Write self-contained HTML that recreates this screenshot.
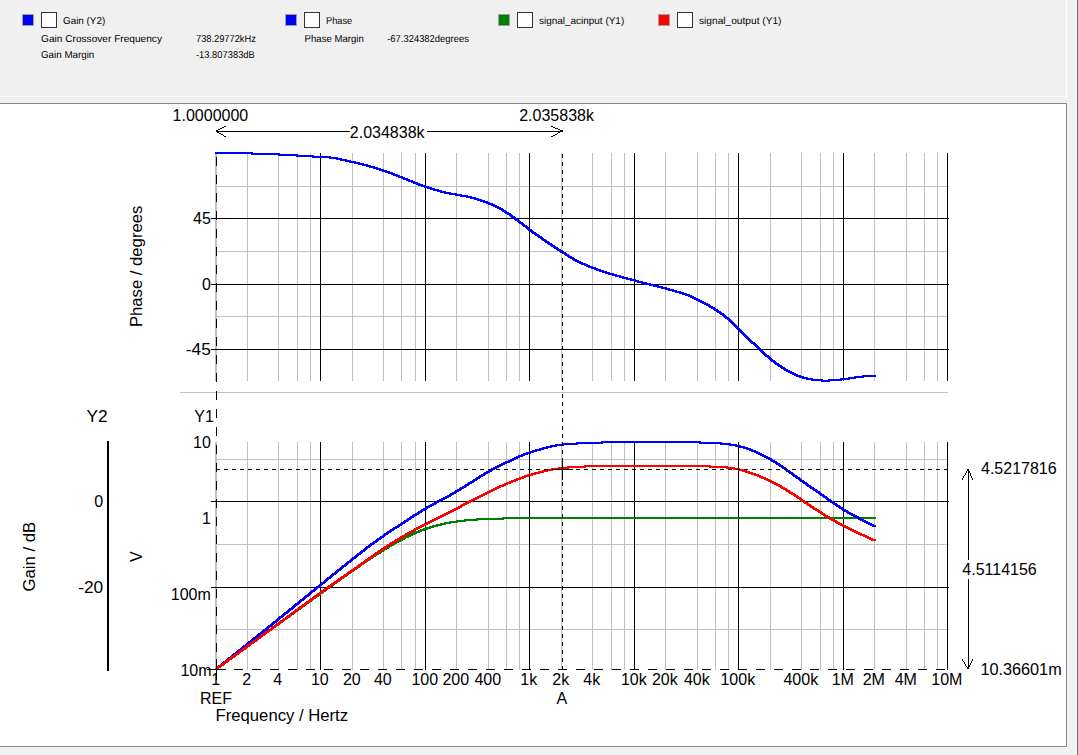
<!DOCTYPE html>
<html><head><meta charset="utf-8"><title>Bode plot</title>
<style>
html,body{margin:0;padding:0;}
body{width:1078px;height:755px;overflow:hidden;background:#f0f0f0;position:relative;
font-family:"Liberation Sans",sans-serif;}
.abs{position:absolute;}
.sq{position:absolute;top:14px;width:10px;height:10px;border:1px solid #a0a0a0;}
.cb{position:absolute;top:12px;width:14px;height:14px;border:1px solid #333;background:#fff;}
.lt{position:absolute;font-size:11px;line-height:13px;white-space:nowrap;color:#000;}
#chart{position:absolute;left:0;top:104px;width:1066px;height:642px;background:#fff;}
svg{position:absolute;left:0;top:0;}
</style></head><body>
<div class="abs" style="left:0;top:96px;width:1067px;height:1px;background:#fff"></div>
<div class="abs" style="left:1066px;top:0;width:1px;height:97px;background:#fff"></div>
<div class="abs" style="left:0;top:102px;width:1068px;height:1px;background:#f5f5f5"></div>
<div class="abs" style="left:1067px;top:102px;width:1px;height:646px;background:#f5f5f5"></div>
<div class="abs" style="left:0;top:747px;width:1068px;height:1px;background:#f5f5f5"></div>
<div class="abs" style="left:0;top:103px;width:1067px;height:644px;background:#828790"></div>
<div id="chart"></div>
<div class="abs" style="left:1076px;top:0;width:1px;height:755px;background:#f5f5f5"></div>
<div class="abs" style="left:1077px;top:0;width:1px;height:755px;background:#707070"></div>
<svg width="1078" height="755" viewBox="0 0 1078 755" shape-rendering="crispEdges">
<g font-family="Liberation Sans, sans-serif" font-size="10" fill="#000" text-rendering="geometricPrecision">
<rect x="22" y="14" width="12" height="12" fill="#a0a0a0"/>
<rect x="23" y="15" width="10" height="10" fill="#0000ff"/>
<rect x="41" y="12" width="16" height="16" fill="#333"/>
<rect x="42" y="13" width="14" height="14" fill="#fff"/>
<text x="63" y="24" textLength="42.2" lengthAdjust="spacingAndGlyphs">Gain (Y2)</text>
<rect x="285" y="14" width="12" height="12" fill="#a0a0a0"/>
<rect x="286" y="15" width="10" height="10" fill="#0000ff"/>
<rect x="304" y="12" width="16" height="16" fill="#333"/>
<rect x="305" y="13" width="14" height="14" fill="#fff"/>
<text x="326" y="24" textLength="26.1" lengthAdjust="spacingAndGlyphs">Phase</text>
<rect x="498" y="14" width="12" height="12" fill="#a0a0a0"/>
<rect x="499" y="15" width="10" height="10" fill="#008000"/>
<rect x="517" y="12" width="16" height="16" fill="#333"/>
<rect x="518" y="13" width="14" height="14" fill="#fff"/>
<text x="539" y="24" textLength="85.2" lengthAdjust="spacingAndGlyphs">signal_acinput (Y1)</text>
<rect x="658" y="14" width="12" height="12" fill="#a0a0a0"/>
<rect x="659" y="15" width="10" height="10" fill="#ff0000"/>
<rect x="677" y="12" width="16" height="16" fill="#333"/>
<rect x="678" y="13" width="14" height="14" fill="#fff"/>
<text x="699" y="24" textLength="82.5" lengthAdjust="spacingAndGlyphs">signal_output (Y1)</text>
<text x="41" y="42" textLength="121" lengthAdjust="spacingAndGlyphs">Gain Crossover Frequency</text>
<text x="196" y="42" textLength="59.8" lengthAdjust="spacingAndGlyphs">738.29772kHz</text>
<text x="41" y="58" textLength="53.3" lengthAdjust="spacingAndGlyphs">Gain Margin</text>
<text x="196" y="58" textLength="58.8" lengthAdjust="spacingAndGlyphs">-13.807383dB</text>
<text x="304.6" y="42" textLength="59.2" lengthAdjust="spacingAndGlyphs">Phase Margin</text>
<text x="387.2" y="42" textLength="81.7" lengthAdjust="spacingAndGlyphs">-67.324382degrees</text>
</g>
<rect x="216" y="186" width="733" height="1" fill="#c0c0c0"/>
<rect x="216" y="251" width="733" height="1" fill="#c0c0c0"/>
<rect x="216" y="316" width="733" height="1" fill="#c0c0c0"/>
<rect x="247" y="153" width="1" height="228" fill="#c0c0c0"/>
<rect x="278" y="153" width="1" height="228" fill="#c0c0c0"/>
<rect x="297" y="153" width="1" height="228" fill="#c0c0c0"/>
<rect x="310" y="153" width="1" height="228" fill="#c0c0c0"/>
<rect x="352" y="153" width="1" height="228" fill="#c0c0c0"/>
<rect x="383" y="153" width="1" height="228" fill="#c0c0c0"/>
<rect x="401" y="153" width="1" height="228" fill="#c0c0c0"/>
<rect x="415" y="153" width="1" height="228" fill="#c0c0c0"/>
<rect x="456" y="153" width="1" height="228" fill="#c0c0c0"/>
<rect x="488" y="153" width="1" height="228" fill="#c0c0c0"/>
<rect x="506" y="153" width="1" height="228" fill="#c0c0c0"/>
<rect x="519" y="153" width="1" height="228" fill="#c0c0c0"/>
<rect x="561" y="153" width="1" height="228" fill="#c0c0c0"/>
<rect x="592" y="153" width="1" height="228" fill="#c0c0c0"/>
<rect x="611" y="153" width="1" height="228" fill="#c0c0c0"/>
<rect x="624" y="153" width="1" height="228" fill="#c0c0c0"/>
<rect x="665" y="153" width="1" height="228" fill="#c0c0c0"/>
<rect x="697" y="153" width="1" height="228" fill="#c0c0c0"/>
<rect x="715" y="153" width="1" height="228" fill="#c0c0c0"/>
<rect x="728" y="153" width="1" height="228" fill="#c0c0c0"/>
<rect x="770" y="153" width="1" height="228" fill="#c0c0c0"/>
<rect x="801" y="153" width="1" height="228" fill="#c0c0c0"/>
<rect x="820" y="153" width="1" height="228" fill="#c0c0c0"/>
<rect x="833" y="153" width="1" height="228" fill="#c0c0c0"/>
<rect x="874" y="153" width="1" height="228" fill="#c0c0c0"/>
<rect x="906" y="153" width="1" height="228" fill="#c0c0c0"/>
<rect x="924" y="153" width="1" height="228" fill="#c0c0c0"/>
<rect x="937" y="153" width="1" height="228" fill="#c0c0c0"/>
<rect x="215" y="153" width="1" height="228" fill="#c0c0c0"/>
<rect x="216" y="153" width="1" height="228" fill="#c0c0c0"/>
<rect x="211" y="218" width="738" height="1" fill="#000"/>
<rect x="211" y="284" width="738" height="1" fill="#000"/>
<rect x="211" y="349" width="738" height="1" fill="#000"/>
<rect x="320" y="153" width="1" height="228" fill="#000"/>
<rect x="425" y="153" width="1" height="228" fill="#000"/>
<rect x="529" y="153" width="1" height="228" fill="#000"/>
<rect x="634" y="153" width="1" height="228" fill="#000"/>
<rect x="738" y="153" width="1" height="228" fill="#000"/>
<rect x="843" y="153" width="1" height="228" fill="#000"/>
<rect x="947" y="153" width="1" height="228" fill="#000"/>
<rect x="180" y="392" width="768" height="1" fill="#c0c0c0"/>
<rect x="216" y="459" width="733" height="1" fill="#c0c0c0"/>
<rect x="216" y="544" width="733" height="1" fill="#c0c0c0"/>
<rect x="216" y="629" width="733" height="1" fill="#c0c0c0"/>
<rect x="247" y="442" width="1" height="228" fill="#c0c0c0"/>
<rect x="278" y="442" width="1" height="228" fill="#c0c0c0"/>
<rect x="297" y="442" width="1" height="228" fill="#c0c0c0"/>
<rect x="310" y="442" width="1" height="228" fill="#c0c0c0"/>
<rect x="352" y="442" width="1" height="228" fill="#c0c0c0"/>
<rect x="383" y="442" width="1" height="228" fill="#c0c0c0"/>
<rect x="401" y="442" width="1" height="228" fill="#c0c0c0"/>
<rect x="415" y="442" width="1" height="228" fill="#c0c0c0"/>
<rect x="456" y="442" width="1" height="228" fill="#c0c0c0"/>
<rect x="488" y="442" width="1" height="228" fill="#c0c0c0"/>
<rect x="506" y="442" width="1" height="228" fill="#c0c0c0"/>
<rect x="519" y="442" width="1" height="228" fill="#c0c0c0"/>
<rect x="561" y="442" width="1" height="228" fill="#c0c0c0"/>
<rect x="592" y="442" width="1" height="228" fill="#c0c0c0"/>
<rect x="611" y="442" width="1" height="228" fill="#c0c0c0"/>
<rect x="624" y="442" width="1" height="228" fill="#c0c0c0"/>
<rect x="665" y="442" width="1" height="228" fill="#c0c0c0"/>
<rect x="697" y="442" width="1" height="228" fill="#c0c0c0"/>
<rect x="715" y="442" width="1" height="228" fill="#c0c0c0"/>
<rect x="728" y="442" width="1" height="228" fill="#c0c0c0"/>
<rect x="770" y="442" width="1" height="228" fill="#c0c0c0"/>
<rect x="801" y="442" width="1" height="228" fill="#c0c0c0"/>
<rect x="820" y="442" width="1" height="228" fill="#c0c0c0"/>
<rect x="833" y="442" width="1" height="228" fill="#c0c0c0"/>
<rect x="874" y="442" width="1" height="228" fill="#c0c0c0"/>
<rect x="906" y="442" width="1" height="228" fill="#c0c0c0"/>
<rect x="924" y="442" width="1" height="228" fill="#c0c0c0"/>
<rect x="937" y="442" width="1" height="228" fill="#c0c0c0"/>
<rect x="215" y="442" width="1" height="228" fill="#c0c0c0"/>
<rect x="216" y="442" width="1" height="228" fill="#c0c0c0"/>
<rect x="211" y="501" width="738" height="1" fill="#000"/>
<rect x="211" y="587" width="738" height="1" fill="#000"/>
<rect x="320" y="442" width="1" height="228" fill="#000"/>
<rect x="425" y="442" width="1" height="228" fill="#000"/>
<rect x="529" y="442" width="1" height="228" fill="#000"/>
<rect x="634" y="442" width="1" height="228" fill="#000"/>
<rect x="738" y="442" width="1" height="228" fill="#000"/>
<rect x="843" y="442" width="1" height="228" fill="#000"/>
<rect x="947" y="442" width="1" height="228" fill="#000"/>
<rect x="107" y="441" width="2" height="230" fill="#000"/>
<path d="M215,152h38v2h-38zM251,153h29v2h-29zM278,154h20v2h-20zM296,155h18v2h-18zM312,156h19v2h-19zM329,157h9v2h-9zM336,158h6v2h-6zM340,159h7v2h-7zM345,160h6v2h-6zM349,161h7v2h-7zM354,162h6v2h-6zM358,163h6v2h-6zM362,164h6v2h-6zM366,165h5v2h-5zM369,166h6v2h-6zM373,167h5v2h-5zM376,168h5v2h-5zM379,169h5v2h-5zM382,170h5v2h-5zM385,171h5v2h-5zM388,172h5v2h-5zM391,173h4v2h-4zM393,174h5v2h-5zM396,175h4v2h-4zM398,176h5v2h-5zM401,177h4v2h-4zM403,178h5v2h-5zM406,179h4v2h-4zM408,180h5v2h-5zM411,181h4v2h-4zM413,182h5v2h-5zM416,183h4v2h-4zM418,184h5v2h-5zM421,185h5v2h-5zM424,186h5v2h-5zM427,187h5v2h-5zM430,188h5v2h-5zM433,189h6v2h-6zM437,190h5v2h-5zM440,191h6v2h-6zM444,192h7v2h-7zM449,193h8v2h-8zM455,194h7v2h-7zM460,195h8v2h-8zM466,196h6v2h-6zM470,197h6v2h-6zM474,198h5v2h-5zM477,199h5v2h-5zM480,200h5v2h-5zM483,201h5v2h-5zM486,202h4v2h-4zM488,203h5v2h-5zM491,204h4v2h-4zM493,205h4v2h-4zM495,206h4v2h-4zM497,207h4v2h-4zM499,208h4v2h-4zM501,209h3v2h-3zM502,210h4v2h-4zM504,211h3v2h-3zM505,212h4v2h-4zM507,213h4v2h-4zM509,214h3v2h-3zM510,215h3v2h-3zM511,216h4v2h-4zM513,217h3v2h-3zM514,218h3v2h-3zM515,219h4v2h-4zM517,220h3v2h-3zM518,221h3v2h-3zM519,222h4v2h-4zM521,223h3v2h-3zM522,224h3v2h-3zM523,225h4v2h-4zM525,226h3v2h-3zM526,227h3v2h-3zM527,228h3v2h-3zM528,229h4v2h-4zM530,230h3v2h-3zM531,231h3v2h-3zM532,232h4v2h-4zM534,233h3v2h-3zM535,234h4v2h-4zM537,235h3v2h-3zM538,236h4v2h-4zM540,237h3v2h-3zM541,238h3v2h-3zM542,239h4v2h-4zM544,240h3v2h-3zM545,241h4v2h-4zM547,242h3v2h-3zM548,243h4v2h-4zM550,244h3v2h-3zM551,245h4v2h-4zM553,246h3v2h-3zM554,247h4v2h-4zM556,248h3v2h-3zM557,249h4v2h-4zM559,250h3v2h-3zM560,251h4v2h-4zM562,252h4v2h-4zM564,253h3v2h-3zM565,254h4v2h-4zM567,255h3v2h-3zM568,256h4v2h-4zM570,257h4v2h-4zM572,258h3v2h-3zM573,259h4v2h-4zM575,260h4v2h-4zM577,261h4v2h-4zM579,262h4v2h-4zM581,263h5v2h-5zM584,264h4v2h-4zM586,265h4v2h-4zM588,266h5v2h-5zM591,267h5v2h-5zM594,268h4v2h-4zM596,269h5v2h-5zM599,270h5v2h-5zM602,271h5v2h-5zM605,272h5v2h-5zM608,273h6v2h-6zM612,274h5v2h-5zM615,275h6v2h-6zM619,276h5v2h-5zM622,277h6v2h-6zM626,278h6v2h-6zM630,279h6v2h-6zM634,280h5v2h-5zM637,281h6v2h-6zM641,282h6v2h-6zM645,283h6v2h-6zM649,284h6v2h-6zM653,285h6v2h-6zM657,286h6v2h-6zM661,287h6v2h-6zM665,288h5v2h-5zM668,289h6v2h-6zM672,290h5v2h-5zM675,291h6v2h-6zM679,292h5v2h-5zM682,293h5v2h-5zM685,294h5v2h-5zM688,295h4v2h-4zM690,296h4v2h-4zM692,297h4v2h-4zM694,298h4v2h-4zM696,299h4v2h-4zM698,300h4v2h-4zM700,301h4v2h-4zM702,302h4v2h-4zM704,303h4v2h-4zM706,304h4v2h-4zM708,305h3v2h-3zM709,306h4v2h-4zM711,307h4v2h-4zM713,308h3v2h-3zM714,309h4v2h-4zM716,310h3v2h-3zM717,311h4v2h-4zM719,312h3v2h-3zM720,313h4v2h-4zM722,314h3v2h-3zM723,315h3v2h-3zM724,316h3v2h-3zM725,317h4v2h-4zM727,318h3v2h-3zM728,319h3v2h-3zM729,320h3v2h-3zM730,321h3v2h-3zM731,322h3v2h-3zM732,323h3v2h-3zM733,324h3v2h-3zM734,325h3v2h-3zM735,326h3v2h-3zM736,327h3v2h-3zM737,328h3v2h-3zM738,329h3v2h-3zM739,330h3v2h-3zM740,331h3v2h-3zM741,332h3v2h-3zM742,333h3v2h-3zM743,334h3v2h-3zM744,335h3v2h-3zM745,336h3v2h-3zM746,337h3v2h-3zM747,338h3v2h-3zM748,339h3v2h-3zM749,340h3v2h-3zM750,341h3v2h-3zM751,342h4v2h-4zM753,343h3v2h-3zM754,344h3v2h-3zM755,345h3v2h-3zM756,346h3v2h-3zM757,347h3v2h-3zM758,348h3v2h-3zM759,349h3v2h-3zM760,350h3v2h-3zM761,351h3v2h-3zM762,352h3v2h-3zM763,353h3v2h-3zM764,354h3v2h-3zM765,355h4v2h-4zM767,356h3v2h-3zM768,357h3v2h-3zM769,358h3v2h-3zM770,359h3v2h-3zM771,360h4v2h-4zM773,361h3v2h-3zM774,362h3v2h-3zM775,363h4v2h-4zM777,364h3v2h-3zM778,365h4v2h-4zM780,366h3v2h-3zM781,367h4v2h-4zM783,368h3v2h-3zM784,369h4v2h-4zM786,370h4v2h-4zM788,371h4v2h-4zM790,372h4v2h-4zM792,373h4v2h-4zM794,374h4v2h-4zM796,375h5v2h-5zM799,376h5v2h-5zM802,377h6v2h-6zM806,378h7v2h-7zM811,379h12v2h-12zM821,380h9v2h-9zM828,379h14v2h-14zM840,378h10v2h-10zM848,377h8v2h-8zM854,376h10v2h-10zM862,375h14v2h-14z" fill="#0000ff"/>
<path d="M215,668h3v2h-3zM216,667h3v2h-3zM217,666h4v2h-4zM219,665h3v2h-3zM220,664h3v2h-3zM221,663h4v2h-4zM223,662h3v2h-3zM224,661h4v2h-4zM226,660h3v2h-3zM227,659h3v2h-3zM228,658h4v2h-4zM230,657h3v2h-3zM231,656h3v2h-3zM232,655h4v2h-4zM234,654h3v2h-3zM235,653h4v2h-4zM237,652h3v2h-3zM238,651h3v2h-3zM239,650h4v2h-4zM241,649h3v2h-3zM242,648h3v2h-3zM243,647h4v2h-4zM245,646h3v2h-3zM246,645h4v2h-4zM248,644h3v2h-3zM249,643h3v2h-3zM250,642h4v2h-4zM252,641h3v2h-3zM253,640h3v2h-3zM254,639h4v2h-4zM256,638h3v2h-3zM257,637h4v2h-4zM259,636h3v2h-3zM260,635h3v2h-3zM261,634h4v2h-4zM263,633h3v2h-3zM264,632h3v2h-3zM265,631h4v2h-4zM267,630h3v2h-3zM268,629h4v2h-4zM270,628h3v2h-3zM271,627h3v2h-3zM272,626h4v2h-4zM274,625h3v2h-3zM275,624h4v2h-4zM277,623h3v2h-3zM278,622h3v2h-3zM279,621h4v2h-4zM281,620h3v2h-3zM282,619h3v2h-3zM283,618h4v2h-4zM285,617h3v2h-3zM286,616h4v2h-4zM288,615h3v2h-3zM289,614h3v2h-3zM290,613h4v2h-4zM292,612h3v2h-3zM293,611h3v2h-3zM294,610h4v2h-4zM296,609h3v2h-3zM297,608h4v2h-4zM299,607h3v2h-3zM300,606h3v2h-3zM301,605h4v2h-4zM303,604h3v2h-3zM304,603h3v2h-3zM305,602h4v2h-4zM307,601h3v2h-3zM308,600h4v2h-4zM310,599h3v2h-3zM311,598h3v2h-3zM312,597h4v2h-4zM314,596h3v2h-3zM315,595h4v2h-4zM317,594h3v2h-3zM318,593h3v2h-3zM319,592h4v2h-4zM321,591h3v2h-3zM322,590h4v2h-4zM324,589h3v2h-3zM325,588h3v2h-3zM326,587h4v2h-4zM328,586h3v2h-3zM329,585h4v2h-4zM331,584h3v2h-3zM332,583h3v2h-3zM333,582h4v2h-4zM335,581h3v2h-3zM336,580h4v2h-4zM338,579h3v2h-3zM339,578h3v2h-3zM340,577h4v2h-4zM342,576h3v2h-3zM343,575h4v2h-4zM345,574h3v2h-3zM346,573h3v2h-3zM347,572h4v2h-4zM349,571h3v2h-3zM350,570h4v2h-4zM352,569h3v2h-3zM353,568h4v2h-4zM355,567h3v2h-3zM356,566h4v2h-4zM358,565h3v2h-3zM359,564h3v2h-3zM360,563h4v2h-4zM362,562h3v2h-3zM363,561h4v2h-4zM365,560h3v2h-3zM366,559h4v2h-4zM368,558h3v2h-3zM369,557h4v2h-4zM371,556h3v2h-3zM372,555h4v2h-4zM374,554h3v2h-3zM375,553h4v2h-4zM377,552h4v2h-4zM379,551h3v2h-3zM380,550h4v2h-4zM382,549h3v2h-3zM383,548h4v2h-4zM385,547h4v2h-4zM387,546h3v2h-3zM388,545h4v2h-4zM390,544h4v2h-4zM392,543h3v2h-3zM393,542h4v2h-4zM395,541h4v2h-4zM397,540h4v2h-4zM399,539h4v2h-4zM401,538h4v2h-4zM403,537h3v2h-3zM404,536h5v2h-5zM407,535h4v2h-4zM409,534h4v2h-4zM411,533h4v2h-4zM413,532h4v2h-4zM415,531h5v2h-5zM418,530h4v2h-4zM420,529h5v2h-5zM423,528h5v2h-5zM426,527h5v2h-5zM429,526h5v2h-5zM432,525h6v2h-6zM436,524h6v2h-6zM440,523h6v2h-6zM444,522h7v2h-7zM449,521h9v2h-9zM456,520h10v2h-10zM464,519h14v2h-14zM476,518h28v2h-28zM502,517h374v2h-374z" fill="#008000"/>
<path d="M215,668h3v2h-3zM216,667h3v2h-3zM217,666h3v2h-3zM218,665h4v2h-4zM220,664h3v2h-3zM221,663h3v2h-3zM222,662h3v2h-3zM223,661h4v2h-4zM225,660h3v2h-3zM226,659h3v2h-3zM227,658h3v2h-3zM228,657h4v2h-4zM230,656h3v2h-3zM231,655h3v2h-3zM232,654h3v2h-3zM233,653h4v2h-4zM235,652h3v2h-3zM236,651h3v2h-3zM237,650h3v2h-3zM238,649h4v2h-4zM240,648h3v2h-3zM241,647h3v2h-3zM242,646h3v2h-3zM243,645h4v2h-4zM245,644h3v2h-3zM246,643h3v2h-3zM247,642h3v2h-3zM248,641h4v2h-4zM250,640h3v2h-3zM251,639h3v2h-3zM252,638h3v2h-3zM253,637h4v2h-4zM255,636h3v2h-3zM256,635h3v2h-3zM257,634h3v2h-3zM258,633h4v2h-4zM260,632h3v2h-3zM261,631h3v2h-3zM262,630h3v2h-3zM263,629h4v2h-4zM265,628h3v2h-3zM266,627h3v2h-3zM267,626h3v2h-3zM268,625h4v2h-4zM270,624h3v2h-3zM271,623h3v2h-3zM272,622h3v2h-3zM273,621h4v2h-4zM275,620h3v2h-3zM276,619h3v2h-3zM277,618h3v2h-3zM278,617h3v2h-3zM279,616h4v2h-4zM281,615h3v2h-3zM282,614h3v2h-3zM283,613h3v2h-3zM284,612h4v2h-4zM286,611h3v2h-3zM287,610h3v2h-3zM288,609h3v2h-3zM289,608h4v2h-4zM291,607h3v2h-3zM292,606h3v2h-3zM293,605h3v2h-3zM294,604h3v2h-3zM295,603h4v2h-4zM297,602h3v2h-3zM298,601h3v2h-3zM299,600h3v2h-3zM300,599h4v2h-4zM302,598h3v2h-3zM303,597h3v2h-3zM304,596h3v2h-3zM305,595h4v2h-4zM307,594h3v2h-3zM308,593h3v2h-3zM309,592h3v2h-3zM310,591h3v2h-3zM311,590h4v2h-4zM313,589h3v2h-3zM314,588h3v2h-3zM315,587h3v2h-3zM316,586h4v2h-4zM318,585h3v2h-3zM319,584h3v2h-3zM320,583h3v2h-3zM321,582h4v2h-4zM323,581h3v2h-3zM324,580h3v2h-3zM325,579h3v2h-3zM326,578h3v2h-3zM327,577h4v2h-4zM329,576h3v2h-3zM330,575h3v2h-3zM331,574h3v2h-3zM332,573h4v2h-4zM334,572h3v2h-3zM335,571h3v2h-3zM336,570h3v2h-3zM337,569h4v2h-4zM339,568h3v2h-3zM340,567h3v2h-3zM341,566h3v2h-3zM342,565h4v2h-4zM344,564h3v2h-3zM345,563h3v2h-3zM346,562h3v2h-3zM347,561h4v2h-4zM349,560h3v2h-3zM350,559h3v2h-3zM351,558h3v2h-3zM352,557h4v2h-4zM354,556h3v2h-3zM355,555h3v2h-3zM356,554h3v2h-3zM357,553h4v2h-4zM359,552h3v2h-3zM360,551h3v2h-3zM361,550h4v2h-4zM363,549h3v2h-3zM364,548h3v2h-3zM365,547h3v2h-3zM366,546h4v2h-4zM368,545h3v2h-3zM369,544h3v2h-3zM370,543h4v2h-4zM372,542h3v2h-3zM373,541h4v2h-4zM375,540h3v2h-3zM376,539h3v2h-3zM377,538h4v2h-4zM379,537h3v2h-3zM380,536h4v2h-4zM382,535h3v2h-3zM383,534h3v2h-3zM384,533h4v2h-4zM386,532h3v2h-3zM387,531h4v2h-4zM389,530h3v2h-3zM390,529h4v2h-4zM392,528h3v2h-3zM393,527h4v2h-4zM395,526h4v2h-4zM397,525h3v2h-3zM398,524h4v2h-4zM400,523h3v2h-3zM401,522h4v2h-4zM403,521h3v2h-3zM404,520h4v2h-4zM406,519h3v2h-3zM407,518h4v2h-4zM409,517h3v2h-3zM410,516h4v2h-4zM412,515h3v2h-3zM413,514h4v2h-4zM415,513h4v2h-4zM417,512h3v2h-3zM418,511h4v2h-4zM420,510h3v2h-3zM421,509h4v2h-4zM423,508h4v2h-4zM425,507h3v2h-3zM426,506h4v2h-4zM428,505h4v2h-4zM430,504h4v2h-4zM432,503h4v2h-4zM434,502h3v2h-3zM435,501h4v2h-4zM437,500h4v2h-4zM439,499h4v2h-4zM441,498h4v2h-4zM443,497h4v2h-4zM445,496h4v2h-4zM447,495h4v2h-4zM449,494h3v2h-3zM450,493h4v2h-4zM452,492h4v2h-4zM454,491h3v2h-3zM455,490h4v2h-4zM457,489h4v2h-4zM459,488h3v2h-3zM460,487h4v2h-4zM462,486h4v2h-4zM464,485h3v2h-3zM465,484h4v2h-4zM467,483h3v2h-3zM468,482h4v2h-4zM470,481h4v2h-4zM472,480h3v2h-3zM473,479h4v2h-4zM475,478h3v2h-3zM476,477h4v2h-4zM478,476h3v2h-3zM479,475h4v2h-4zM481,474h4v2h-4zM483,473h3v2h-3zM484,472h4v2h-4zM486,471h4v2h-4zM488,470h4v2h-4zM490,469h3v2h-3zM491,468h4v2h-4zM493,467h4v2h-4zM495,466h4v2h-4zM497,465h4v2h-4zM499,464h4v2h-4zM501,463h4v2h-4zM503,462h4v2h-4zM505,461h5v2h-5zM508,460h4v2h-4zM510,459h4v2h-4zM512,458h4v2h-4zM514,457h4v2h-4zM516,456h4v2h-4zM518,455h5v2h-5zM521,454h4v2h-4zM523,453h5v2h-5zM526,452h5v2h-5zM529,451h5v2h-5zM532,450h5v2h-5zM535,449h6v2h-6zM539,448h5v2h-5zM542,447h6v2h-6zM546,446h6v2h-6zM550,445h7v2h-7zM555,444h9v2h-9zM562,443h16v2h-16zM576,442h27v2h-27zM601,441h100v2h-100zM699,442h23v2h-23zM720,443h11v2h-11zM729,444h8v2h-8zM735,445h6v2h-6zM739,446h6v2h-6zM743,447h5v2h-5zM746,448h5v2h-5zM749,449h4v2h-4zM751,450h5v2h-5zM754,451h4v2h-4zM756,452h4v2h-4zM758,453h4v2h-4zM760,454h4v2h-4zM762,455h4v2h-4zM764,456h4v2h-4zM766,457h4v2h-4zM768,458h4v2h-4zM770,459h3v2h-3zM771,460h4v2h-4zM773,461h4v2h-4zM775,462h3v2h-3zM776,463h4v2h-4zM778,464h3v2h-3zM779,465h4v2h-4zM781,466h3v2h-3zM782,467h4v2h-4zM784,468h3v2h-3zM785,469h3v2h-3zM786,470h4v2h-4zM788,471h3v2h-3zM789,472h4v2h-4zM791,473h3v2h-3zM792,474h3v2h-3zM793,475h4v2h-4zM795,476h3v2h-3zM796,477h4v2h-4zM798,478h3v2h-3zM799,479h3v2h-3zM800,480h4v2h-4zM802,481h3v2h-3zM803,482h4v2h-4zM805,483h3v2h-3zM806,484h3v2h-3zM807,485h4v2h-4zM809,486h3v2h-3zM810,487h4v2h-4zM812,488h3v2h-3zM813,489h4v2h-4zM815,490h3v2h-3zM816,491h4v2h-4zM818,492h3v2h-3zM819,493h3v2h-3zM820,494h4v2h-4zM822,495h3v2h-3zM823,496h4v2h-4zM825,497h3v2h-3zM826,498h3v2h-3zM827,499h4v2h-4zM829,500h3v2h-3zM830,501h4v2h-4zM832,502h3v2h-3zM833,503h4v2h-4zM835,504h3v2h-3zM836,505h4v2h-4zM838,506h3v2h-3zM839,507h4v2h-4zM841,508h3v2h-3zM842,509h4v2h-4zM844,510h4v2h-4zM846,511h3v2h-3zM847,512h4v2h-4zM849,513h4v2h-4zM851,514h4v2h-4zM853,515h4v2h-4zM855,516h4v2h-4zM857,517h3v2h-3zM858,518h4v2h-4zM860,519h4v2h-4zM862,520h4v2h-4zM864,521h4v2h-4zM866,522h4v2h-4zM868,523h4v2h-4zM870,524h4v2h-4zM872,525h4v2h-4z" fill="#0000ff"/>
<path d="M215,668h3v2h-3zM216,667h3v2h-3zM217,666h4v2h-4zM219,665h3v2h-3zM220,664h4v2h-4zM222,663h3v2h-3zM223,662h3v2h-3zM224,661h4v2h-4zM226,660h3v2h-3zM227,659h3v2h-3zM228,658h4v2h-4zM230,657h3v2h-3zM231,656h4v2h-4zM233,655h3v2h-3zM234,654h3v2h-3zM235,653h4v2h-4zM237,652h3v2h-3zM238,651h3v2h-3zM239,650h4v2h-4zM241,649h3v2h-3zM242,648h4v2h-4zM244,647h3v2h-3zM245,646h3v2h-3zM246,645h4v2h-4zM248,644h3v2h-3zM249,643h3v2h-3zM250,642h4v2h-4zM252,641h3v2h-3zM253,640h4v2h-4zM255,639h3v2h-3zM256,638h3v2h-3zM257,637h4v2h-4zM259,636h3v2h-3zM260,635h3v2h-3zM261,634h4v2h-4zM263,633h3v2h-3zM264,632h3v2h-3zM265,631h4v2h-4zM267,630h3v2h-3zM268,629h4v2h-4zM270,628h3v2h-3zM271,627h3v2h-3zM272,626h4v2h-4zM274,625h3v2h-3zM275,624h3v2h-3zM276,623h4v2h-4zM278,622h3v2h-3zM279,621h3v2h-3zM280,620h4v2h-4zM282,619h3v2h-3zM283,618h4v2h-4zM285,617h3v2h-3zM286,616h3v2h-3zM287,615h4v2h-4zM289,614h3v2h-3zM290,613h3v2h-3zM291,612h4v2h-4zM293,611h3v2h-3zM294,610h3v2h-3zM295,609h4v2h-4zM297,608h3v2h-3zM298,607h3v2h-3zM299,606h4v2h-4zM301,605h3v2h-3zM302,604h4v2h-4zM304,603h3v2h-3zM305,602h3v2h-3zM306,601h4v2h-4zM308,600h3v2h-3zM309,599h3v2h-3zM310,598h4v2h-4zM312,597h3v2h-3zM313,596h3v2h-3zM314,595h4v2h-4zM316,594h3v2h-3zM317,593h4v2h-4zM319,592h3v2h-3zM320,591h3v2h-3zM321,590h4v2h-4zM323,589h3v2h-3zM324,588h4v2h-4zM326,587h3v2h-3zM327,586h3v2h-3zM328,585h4v2h-4zM330,584h3v2h-3zM331,583h4v2h-4zM333,582h3v2h-3zM334,581h4v2h-4zM336,580h3v2h-3zM337,579h3v2h-3zM338,578h4v2h-4zM340,577h3v2h-3zM341,576h4v2h-4zM343,575h3v2h-3zM344,574h4v2h-4zM346,573h3v2h-3zM347,572h3v2h-3zM348,571h4v2h-4zM350,570h3v2h-3zM351,569h4v2h-4zM353,568h3v2h-3zM354,567h4v2h-4zM356,566h3v2h-3zM357,565h3v2h-3zM358,564h4v2h-4zM360,563h3v2h-3zM361,562h4v2h-4zM363,561h3v2h-3zM364,560h3v2h-3zM365,559h4v2h-4zM367,558h3v2h-3zM368,557h4v2h-4zM370,556h3v2h-3zM371,555h4v2h-4zM373,554h3v2h-3zM374,553h3v2h-3zM375,552h4v2h-4zM377,551h3v2h-3zM378,550h4v2h-4zM380,549h3v2h-3zM381,548h4v2h-4zM383,547h3v2h-3zM384,546h4v2h-4zM386,545h3v2h-3zM387,544h4v2h-4zM389,543h3v2h-3zM390,542h4v2h-4zM392,541h4v2h-4zM394,540h3v2h-3zM395,539h4v2h-4zM397,538h4v2h-4zM399,537h3v2h-3zM400,536h4v2h-4zM402,535h4v2h-4zM404,534h3v2h-3zM405,533h4v2h-4zM407,532h4v2h-4zM409,531h4v2h-4zM411,530h4v2h-4zM413,529h3v2h-3zM414,528h4v2h-4zM416,527h4v2h-4zM418,526h4v2h-4zM420,525h4v2h-4zM422,524h4v2h-4zM424,523h4v2h-4zM426,522h4v2h-4zM428,521h4v2h-4zM430,520h4v2h-4zM432,519h4v2h-4zM434,518h4v2h-4zM436,517h4v2h-4zM438,516h4v2h-4zM440,515h4v2h-4zM442,514h4v2h-4zM444,513h4v2h-4zM446,512h4v2h-4zM448,511h4v2h-4zM450,510h4v2h-4zM452,509h4v2h-4zM454,508h4v2h-4zM456,507h4v2h-4zM458,506h4v2h-4zM460,505h3v2h-3zM461,504h4v2h-4zM463,503h4v2h-4zM465,502h4v2h-4zM467,501h4v2h-4zM469,500h4v2h-4zM471,499h4v2h-4zM473,498h4v2h-4zM475,497h4v2h-4zM477,496h4v2h-4zM479,495h4v2h-4zM481,494h4v2h-4zM483,493h4v2h-4zM485,492h4v2h-4zM487,491h4v2h-4zM489,490h4v2h-4zM491,489h4v2h-4zM493,488h4v2h-4zM495,487h4v2h-4zM497,486h4v2h-4zM499,485h5v2h-5zM502,484h4v2h-4zM504,483h4v2h-4zM506,482h5v2h-5zM509,481h4v2h-4zM511,480h5v2h-5zM514,479h4v2h-4zM516,478h5v2h-5zM519,477h5v2h-5zM522,476h4v2h-4zM524,475h5v2h-5zM527,474h6v2h-6zM531,473h5v2h-5zM534,472h6v2h-6zM538,471h6v2h-6zM542,470h6v2h-6zM546,469h7v2h-7zM551,468h9v2h-9zM558,467h11v2h-11zM567,466h19v2h-19zM584,465h127v2h-127zM709,466h19v2h-19zM726,467h9v2h-9zM733,468h7v2h-7zM738,469h6v2h-6zM742,470h5v2h-5zM745,471h5v2h-5zM748,472h5v2h-5zM751,473h5v2h-5zM754,474h5v2h-5zM757,475h4v2h-4zM759,476h4v2h-4zM761,477h5v2h-5zM764,478h4v2h-4zM766,479h4v2h-4zM768,480h4v2h-4zM770,481h4v2h-4zM772,482h4v2h-4zM774,483h4v2h-4zM776,484h4v2h-4zM778,485h4v2h-4zM780,486h3v2h-3zM781,487h4v2h-4zM783,488h4v2h-4zM785,489h3v2h-3zM786,490h4v2h-4zM788,491h3v2h-3zM789,492h4v2h-4zM791,493h4v2h-4zM793,494h3v2h-3zM794,495h4v2h-4zM796,496h3v2h-3zM797,497h4v2h-4zM799,498h3v2h-3zM800,499h3v2h-3zM801,500h4v2h-4zM803,501h3v2h-3zM804,502h4v2h-4zM806,503h3v2h-3zM807,504h4v2h-4zM809,505h3v2h-3zM810,506h4v2h-4zM812,507h3v2h-3zM813,508h4v2h-4zM815,509h4v2h-4zM817,510h3v2h-3zM818,511h4v2h-4zM820,512h3v2h-3zM821,513h4v2h-4zM823,514h3v2h-3zM824,515h4v2h-4zM826,516h4v2h-4zM828,517h3v2h-3zM829,518h4v2h-4zM831,519h4v2h-4zM833,520h4v2h-4zM835,521h3v2h-3zM836,522h4v2h-4zM838,523h4v2h-4zM840,524h4v2h-4zM842,525h4v2h-4zM844,526h4v2h-4zM846,527h4v2h-4zM848,528h4v2h-4zM850,529h4v2h-4zM852,530h4v2h-4zM854,531h4v2h-4zM856,532h4v2h-4zM858,533h4v2h-4zM860,534h5v2h-5zM863,535h4v2h-4zM865,536h4v2h-4zM867,537h4v2h-4zM869,538h4v2h-4zM871,539h5v2h-5z" fill="#ff0000"/>
<rect x="216" y="157" width="1" height="9" fill="#000"/>
<rect x="216" y="175" width="1" height="9" fill="#000"/>
<rect x="216" y="193" width="1" height="9" fill="#000"/>
<rect x="216" y="211" width="1" height="9" fill="#000"/>
<rect x="216" y="229" width="1" height="9" fill="#000"/>
<rect x="216" y="247" width="1" height="9" fill="#000"/>
<rect x="216" y="265" width="1" height="9" fill="#000"/>
<rect x="216" y="283" width="1" height="9" fill="#000"/>
<rect x="216" y="301" width="1" height="9" fill="#000"/>
<rect x="216" y="319" width="1" height="9" fill="#000"/>
<rect x="216" y="337" width="1" height="9" fill="#000"/>
<rect x="216" y="355" width="1" height="9" fill="#000"/>
<rect x="216" y="373" width="1" height="9" fill="#000"/>
<rect x="216" y="391" width="1" height="9" fill="#000"/>
<rect x="216" y="409" width="1" height="9" fill="#000"/>
<rect x="216" y="427" width="1" height="9" fill="#000"/>
<rect x="216" y="445" width="1" height="9" fill="#000"/>
<rect x="216" y="463" width="1" height="9" fill="#000"/>
<rect x="216" y="481" width="1" height="9" fill="#000"/>
<rect x="216" y="499" width="1" height="9" fill="#000"/>
<rect x="216" y="517" width="1" height="9" fill="#000"/>
<rect x="216" y="535" width="1" height="9" fill="#000"/>
<rect x="216" y="553" width="1" height="9" fill="#000"/>
<rect x="216" y="571" width="1" height="9" fill="#000"/>
<rect x="216" y="589" width="1" height="9" fill="#000"/>
<rect x="216" y="607" width="1" height="9" fill="#000"/>
<rect x="216" y="625" width="1" height="9" fill="#000"/>
<rect x="216" y="643" width="1" height="9" fill="#000"/>
<rect x="216" y="669" width="9" height="1" fill="#000"/>
<rect x="234" y="669" width="9" height="1" fill="#000"/>
<rect x="252" y="669" width="9" height="1" fill="#000"/>
<rect x="270" y="669" width="9" height="1" fill="#000"/>
<rect x="288" y="669" width="9" height="1" fill="#000"/>
<rect x="306" y="669" width="9" height="1" fill="#000"/>
<rect x="324" y="669" width="9" height="1" fill="#000"/>
<rect x="342" y="669" width="9" height="1" fill="#000"/>
<rect x="360" y="669" width="9" height="1" fill="#000"/>
<rect x="378" y="669" width="9" height="1" fill="#000"/>
<rect x="396" y="669" width="9" height="1" fill="#000"/>
<rect x="414" y="669" width="9" height="1" fill="#000"/>
<rect x="432" y="669" width="9" height="1" fill="#000"/>
<rect x="450" y="669" width="9" height="1" fill="#000"/>
<rect x="468" y="669" width="9" height="1" fill="#000"/>
<rect x="486" y="669" width="9" height="1" fill="#000"/>
<rect x="504" y="669" width="9" height="1" fill="#000"/>
<rect x="522" y="669" width="9" height="1" fill="#000"/>
<rect x="540" y="669" width="9" height="1" fill="#000"/>
<rect x="558" y="669" width="9" height="1" fill="#000"/>
<rect x="576" y="669" width="9" height="1" fill="#000"/>
<rect x="594" y="669" width="9" height="1" fill="#000"/>
<rect x="612" y="669" width="9" height="1" fill="#000"/>
<rect x="630" y="669" width="9" height="1" fill="#000"/>
<rect x="648" y="669" width="9" height="1" fill="#000"/>
<rect x="666" y="669" width="9" height="1" fill="#000"/>
<rect x="684" y="669" width="9" height="1" fill="#000"/>
<rect x="702" y="669" width="9" height="1" fill="#000"/>
<rect x="720" y="669" width="9" height="1" fill="#000"/>
<rect x="738" y="669" width="9" height="1" fill="#000"/>
<rect x="756" y="669" width="9" height="1" fill="#000"/>
<rect x="774" y="669" width="9" height="1" fill="#000"/>
<rect x="792" y="669" width="9" height="1" fill="#000"/>
<rect x="810" y="669" width="9" height="1" fill="#000"/>
<rect x="828" y="669" width="9" height="1" fill="#000"/>
<rect x="846" y="669" width="9" height="1" fill="#000"/>
<rect x="864" y="669" width="9" height="1" fill="#000"/>
<rect x="882" y="669" width="9" height="1" fill="#000"/>
<rect x="900" y="669" width="9" height="1" fill="#000"/>
<rect x="918" y="669" width="9" height="1" fill="#000"/>
<rect x="936" y="669" width="9" height="1" fill="#000"/>
<rect x="207" y="669" width="19" height="1" fill="#000"/>
<rect x="216" y="659" width="1" height="21" fill="#000"/>
<rect x="562" y="154" width="1" height="4" fill="#000"/>
<rect x="562" y="162" width="1" height="4" fill="#000"/>
<rect x="562" y="170" width="1" height="4" fill="#000"/>
<rect x="562" y="178" width="1" height="4" fill="#000"/>
<rect x="562" y="186" width="1" height="4" fill="#000"/>
<rect x="562" y="194" width="1" height="4" fill="#000"/>
<rect x="562" y="202" width="1" height="4" fill="#000"/>
<rect x="562" y="210" width="1" height="4" fill="#000"/>
<rect x="562" y="218" width="1" height="4" fill="#000"/>
<rect x="562" y="226" width="1" height="4" fill="#000"/>
<rect x="562" y="234" width="1" height="4" fill="#000"/>
<rect x="562" y="242" width="1" height="4" fill="#000"/>
<rect x="562" y="250" width="1" height="4" fill="#000"/>
<rect x="562" y="258" width="1" height="4" fill="#000"/>
<rect x="562" y="266" width="1" height="4" fill="#000"/>
<rect x="562" y="274" width="1" height="4" fill="#000"/>
<rect x="562" y="282" width="1" height="4" fill="#000"/>
<rect x="562" y="290" width="1" height="4" fill="#000"/>
<rect x="562" y="298" width="1" height="4" fill="#000"/>
<rect x="562" y="306" width="1" height="4" fill="#000"/>
<rect x="562" y="314" width="1" height="4" fill="#000"/>
<rect x="562" y="322" width="1" height="4" fill="#000"/>
<rect x="562" y="330" width="1" height="4" fill="#000"/>
<rect x="562" y="338" width="1" height="4" fill="#000"/>
<rect x="562" y="346" width="1" height="4" fill="#000"/>
<rect x="562" y="354" width="1" height="4" fill="#000"/>
<rect x="562" y="362" width="1" height="4" fill="#000"/>
<rect x="562" y="370" width="1" height="4" fill="#000"/>
<rect x="562" y="378" width="1" height="4" fill="#000"/>
<rect x="562" y="386" width="1" height="4" fill="#000"/>
<rect x="562" y="394" width="1" height="4" fill="#000"/>
<rect x="562" y="402" width="1" height="4" fill="#000"/>
<rect x="562" y="410" width="1" height="4" fill="#000"/>
<rect x="562" y="418" width="1" height="4" fill="#000"/>
<rect x="562" y="426" width="1" height="4" fill="#000"/>
<rect x="562" y="434" width="1" height="4" fill="#000"/>
<rect x="562" y="442" width="1" height="4" fill="#000"/>
<rect x="562" y="450" width="1" height="4" fill="#000"/>
<rect x="562" y="458" width="1" height="4" fill="#000"/>
<rect x="562" y="466" width="1" height="4" fill="#000"/>
<rect x="562" y="474" width="1" height="4" fill="#000"/>
<rect x="562" y="482" width="1" height="4" fill="#000"/>
<rect x="562" y="490" width="1" height="4" fill="#000"/>
<rect x="562" y="498" width="1" height="4" fill="#000"/>
<rect x="562" y="506" width="1" height="4" fill="#000"/>
<rect x="562" y="514" width="1" height="4" fill="#000"/>
<rect x="562" y="522" width="1" height="4" fill="#000"/>
<rect x="562" y="530" width="1" height="4" fill="#000"/>
<rect x="562" y="538" width="1" height="4" fill="#000"/>
<rect x="562" y="546" width="1" height="4" fill="#000"/>
<rect x="562" y="554" width="1" height="4" fill="#000"/>
<rect x="562" y="562" width="1" height="4" fill="#000"/>
<rect x="562" y="570" width="1" height="4" fill="#000"/>
<rect x="562" y="578" width="1" height="4" fill="#000"/>
<rect x="562" y="586" width="1" height="4" fill="#000"/>
<rect x="562" y="594" width="1" height="4" fill="#000"/>
<rect x="562" y="602" width="1" height="4" fill="#000"/>
<rect x="562" y="610" width="1" height="4" fill="#000"/>
<rect x="562" y="618" width="1" height="4" fill="#000"/>
<rect x="562" y="626" width="1" height="4" fill="#000"/>
<rect x="562" y="634" width="1" height="4" fill="#000"/>
<rect x="562" y="642" width="1" height="4" fill="#000"/>
<rect x="562" y="650" width="1" height="4" fill="#000"/>
<rect x="562" y="658" width="1" height="4" fill="#000"/>
<rect x="562" y="666" width="1" height="4" fill="#000"/>
<rect x="216" y="469" width="4" height="1" fill="#000"/>
<rect x="224" y="469" width="4" height="1" fill="#000"/>
<rect x="232" y="469" width="4" height="1" fill="#000"/>
<rect x="240" y="469" width="4" height="1" fill="#000"/>
<rect x="248" y="469" width="4" height="1" fill="#000"/>
<rect x="256" y="469" width="4" height="1" fill="#000"/>
<rect x="264" y="469" width="4" height="1" fill="#000"/>
<rect x="272" y="469" width="4" height="1" fill="#000"/>
<rect x="280" y="469" width="4" height="1" fill="#000"/>
<rect x="288" y="469" width="4" height="1" fill="#000"/>
<rect x="296" y="469" width="4" height="1" fill="#000"/>
<rect x="304" y="469" width="4" height="1" fill="#000"/>
<rect x="312" y="469" width="4" height="1" fill="#000"/>
<rect x="320" y="469" width="4" height="1" fill="#000"/>
<rect x="328" y="469" width="4" height="1" fill="#000"/>
<rect x="336" y="469" width="4" height="1" fill="#000"/>
<rect x="344" y="469" width="4" height="1" fill="#000"/>
<rect x="352" y="469" width="4" height="1" fill="#000"/>
<rect x="360" y="469" width="4" height="1" fill="#000"/>
<rect x="368" y="469" width="4" height="1" fill="#000"/>
<rect x="376" y="469" width="4" height="1" fill="#000"/>
<rect x="384" y="469" width="4" height="1" fill="#000"/>
<rect x="392" y="469" width="4" height="1" fill="#000"/>
<rect x="400" y="469" width="4" height="1" fill="#000"/>
<rect x="408" y="469" width="4" height="1" fill="#000"/>
<rect x="416" y="469" width="4" height="1" fill="#000"/>
<rect x="424" y="469" width="4" height="1" fill="#000"/>
<rect x="432" y="469" width="4" height="1" fill="#000"/>
<rect x="440" y="469" width="4" height="1" fill="#000"/>
<rect x="448" y="469" width="4" height="1" fill="#000"/>
<rect x="456" y="469" width="4" height="1" fill="#000"/>
<rect x="464" y="469" width="4" height="1" fill="#000"/>
<rect x="472" y="469" width="4" height="1" fill="#000"/>
<rect x="480" y="469" width="4" height="1" fill="#000"/>
<rect x="488" y="469" width="4" height="1" fill="#000"/>
<rect x="496" y="469" width="4" height="1" fill="#000"/>
<rect x="504" y="469" width="4" height="1" fill="#000"/>
<rect x="512" y="469" width="4" height="1" fill="#000"/>
<rect x="520" y="469" width="4" height="1" fill="#000"/>
<rect x="528" y="469" width="4" height="1" fill="#000"/>
<rect x="536" y="469" width="4" height="1" fill="#000"/>
<rect x="544" y="469" width="4" height="1" fill="#000"/>
<rect x="552" y="469" width="4" height="1" fill="#000"/>
<rect x="560" y="469" width="4" height="1" fill="#000"/>
<rect x="568" y="469" width="4" height="1" fill="#000"/>
<rect x="576" y="469" width="4" height="1" fill="#000"/>
<rect x="584" y="469" width="4" height="1" fill="#000"/>
<rect x="592" y="469" width="4" height="1" fill="#000"/>
<rect x="600" y="469" width="4" height="1" fill="#000"/>
<rect x="608" y="469" width="4" height="1" fill="#000"/>
<rect x="616" y="469" width="4" height="1" fill="#000"/>
<rect x="624" y="469" width="4" height="1" fill="#000"/>
<rect x="632" y="469" width="4" height="1" fill="#000"/>
<rect x="640" y="469" width="4" height="1" fill="#000"/>
<rect x="648" y="469" width="4" height="1" fill="#000"/>
<rect x="656" y="469" width="4" height="1" fill="#000"/>
<rect x="664" y="469" width="4" height="1" fill="#000"/>
<rect x="672" y="469" width="4" height="1" fill="#000"/>
<rect x="680" y="469" width="4" height="1" fill="#000"/>
<rect x="688" y="469" width="4" height="1" fill="#000"/>
<rect x="696" y="469" width="4" height="1" fill="#000"/>
<rect x="704" y="469" width="4" height="1" fill="#000"/>
<rect x="712" y="469" width="4" height="1" fill="#000"/>
<rect x="720" y="469" width="4" height="1" fill="#000"/>
<rect x="728" y="469" width="4" height="1" fill="#000"/>
<rect x="736" y="469" width="4" height="1" fill="#000"/>
<rect x="744" y="469" width="4" height="1" fill="#000"/>
<rect x="752" y="469" width="4" height="1" fill="#000"/>
<rect x="760" y="469" width="4" height="1" fill="#000"/>
<rect x="768" y="469" width="4" height="1" fill="#000"/>
<rect x="776" y="469" width="4" height="1" fill="#000"/>
<rect x="784" y="469" width="4" height="1" fill="#000"/>
<rect x="792" y="469" width="4" height="1" fill="#000"/>
<rect x="800" y="469" width="4" height="1" fill="#000"/>
<rect x="808" y="469" width="4" height="1" fill="#000"/>
<rect x="816" y="469" width="4" height="1" fill="#000"/>
<rect x="824" y="469" width="4" height="1" fill="#000"/>
<rect x="832" y="469" width="4" height="1" fill="#000"/>
<rect x="840" y="469" width="4" height="1" fill="#000"/>
<rect x="848" y="469" width="4" height="1" fill="#000"/>
<rect x="856" y="469" width="4" height="1" fill="#000"/>
<rect x="864" y="469" width="4" height="1" fill="#000"/>
<rect x="872" y="469" width="4" height="1" fill="#000"/>
<rect x="880" y="469" width="4" height="1" fill="#000"/>
<rect x="888" y="469" width="4" height="1" fill="#000"/>
<rect x="896" y="469" width="4" height="1" fill="#000"/>
<rect x="904" y="469" width="4" height="1" fill="#000"/>
<rect x="912" y="469" width="4" height="1" fill="#000"/>
<rect x="920" y="469" width="4" height="1" fill="#000"/>
<rect x="928" y="469" width="4" height="1" fill="#000"/>
<rect x="936" y="469" width="4" height="1" fill="#000"/>
<rect x="944" y="469" width="4" height="1" fill="#000"/>
<rect x="552" y="469" width="21" height="1" fill="#000"/>
<rect x="562" y="459" width="1" height="21" fill="#000"/>
<rect x="216" y="131" width="134" height="1" fill="#000"/>
<rect x="427" y="131" width="136" height="1" fill="#000"/>
<rect x="216" y="130" width="2" height="1" fill="#000"/>
<rect x="218" y="129" width="2" height="1" fill="#000"/>
<rect x="220" y="128" width="2" height="1" fill="#000"/>
<rect x="222" y="127" width="2" height="1" fill="#000"/>
<rect x="224" y="126" width="2" height="1" fill="#000"/>
<rect x="217" y="132" width="2" height="1" fill="#000"/>
<rect x="219" y="133" width="2" height="1" fill="#000"/>
<rect x="221" y="134" width="2" height="1" fill="#000"/>
<rect x="223" y="135" width="1" height="1" fill="#000"/>
<rect x="224" y="136" width="2" height="1" fill="#000"/>
<rect x="560" y="130" width="3" height="1" fill="#000"/>
<rect x="558" y="129" width="2" height="1" fill="#000"/>
<rect x="555" y="128" width="3" height="1" fill="#000"/>
<rect x="553" y="127" width="2" height="1" fill="#000"/>
<rect x="551" y="126" width="2" height="1" fill="#000"/>
<rect x="558" y="132" width="2" height="1" fill="#000"/>
<rect x="557" y="133" width="1" height="1" fill="#000"/>
<rect x="555" y="134" width="2" height="1" fill="#000"/>
<rect x="553" y="135" width="2" height="1" fill="#000"/>
<rect x="551" y="136" width="2" height="1" fill="#000"/>
<rect x="968" y="469" width="1" height="91" fill="#000"/>
<rect x="968" y="579" width="1" height="90" fill="#000"/>
<rect x="967" y="469" width="1" height="2" fill="#000"/>
<rect x="966" y="471" width="1" height="2" fill="#000"/>
<rect x="965" y="473" width="1" height="2" fill="#000"/>
<rect x="964" y="475" width="1" height="1" fill="#000"/>
<rect x="963" y="476" width="1" height="2" fill="#000"/>
<rect x="962" y="478" width="1" height="2" fill="#000"/>
<rect x="969" y="471" width="1" height="2" fill="#000"/>
<rect x="970" y="473" width="1" height="3" fill="#000"/>
<rect x="971" y="476" width="1" height="2" fill="#000"/>
<rect x="972" y="478" width="1" height="2" fill="#000"/>
<rect x="967" y="667" width="1" height="2" fill="#000"/>
<rect x="966" y="666" width="1" height="1" fill="#000"/>
<rect x="965" y="664" width="1" height="2" fill="#000"/>
<rect x="964" y="662" width="1" height="2" fill="#000"/>
<rect x="963" y="661" width="1" height="1" fill="#000"/>
<rect x="962" y="659" width="1" height="2" fill="#000"/>
<rect x="969" y="665" width="1" height="2" fill="#000"/>
<rect x="970" y="663" width="1" height="2" fill="#000"/>
<rect x="971" y="661" width="1" height="2" fill="#000"/>
<rect x="972" y="659" width="1" height="2" fill="#000"/>
<g font-family="Liberation Sans, sans-serif" font-size="16" fill="#000">
<text x="172.6" y="120.5" text-anchor="start">1.0000000</text>
<text x="519.2" y="120.5" text-anchor="start">2.035838k</text>
<text x="349.8" y="137.5" text-anchor="start">2.034838k</text>
<text x="210.8" y="223.8" text-anchor="end">45</text>
<text x="210.8" y="289.8" text-anchor="end">0</text>
<text x="210.8" y="354.8" text-anchor="end" textLength="25.0" lengthAdjust="spacingAndGlyphs">-45</text>
<text transform="translate(142,266.4) rotate(-90)" text-anchor="middle" textLength="121.4" lengthAdjust="spacingAndGlyphs">Phase / degrees</text>
<text x="97.0" y="422.3" text-anchor="middle" textLength="21.2" lengthAdjust="spacingAndGlyphs">Y2</text>
<text x="204" y="422.3" text-anchor="middle">Y1</text>
<text x="210.8" y="447.5" text-anchor="end">10</text>
<text x="210.8" y="523.5" text-anchor="end">1</text>
<text x="210.8" y="599.5" text-anchor="end">100m</text>
<text x="211.5" y="675.5" text-anchor="end">10m</text>
<text x="103.2" y="507" text-anchor="end">0</text>
<text x="103.2" y="592.8" text-anchor="end" textLength="25.0" lengthAdjust="spacingAndGlyphs">-20</text>
<text transform="translate(34.8,556.6) rotate(-90)" text-anchor="middle" textLength="69.7" lengthAdjust="spacingAndGlyphs">Gain / dB</text>
<text transform="translate(142,556.7) rotate(-90)" text-anchor="middle">V</text>
<text x="215.8" y="685.3" text-anchor="middle">1</text>
<text x="246.8" y="685.3" text-anchor="middle">2</text>
<text x="277.8" y="685.3" text-anchor="middle">4</text>
<text x="319.8" y="685.3" text-anchor="middle">10</text>
<text x="351.8" y="685.3" text-anchor="middle">20</text>
<text x="382.8" y="685.3" text-anchor="middle">40</text>
<text x="424.8" y="685.3" text-anchor="middle">100</text>
<text x="455.8" y="685.3" text-anchor="middle">200</text>
<text x="487.8" y="685.3" text-anchor="middle">400</text>
<text x="528.8" y="685.3" text-anchor="middle">1k</text>
<text x="560.8" y="685.3" text-anchor="middle">2k</text>
<text x="591.8" y="685.3" text-anchor="middle">4k</text>
<text x="633.8" y="685.3" text-anchor="middle">10k</text>
<text x="664.8" y="685.3" text-anchor="middle">20k</text>
<text x="696.8" y="685.3" text-anchor="middle">40k</text>
<text x="737.8" y="685.3" text-anchor="middle">100k</text>
<text x="800.8" y="685.3" text-anchor="middle">400k</text>
<text x="842.8" y="685.3" text-anchor="middle">1M</text>
<text x="873.8" y="685.3" text-anchor="middle">2M</text>
<text x="905.8" y="685.3" text-anchor="middle">4M</text>
<text x="946.8" y="685.3" text-anchor="middle">10M</text>
<text x="216" y="703.5" text-anchor="middle">REF</text>
<text x="561.9" y="703.5" text-anchor="middle">A</text>
<text x="215.6" y="721.4" text-anchor="start" textLength="132.4" lengthAdjust="spacingAndGlyphs">Frequency / Hertz</text>
<text x="981.0" y="473.5" text-anchor="start">4.5217816</text>
<text x="962.3" y="575" text-anchor="start">4.5114156</text>
<text x="980.4" y="675" text-anchor="start" textLength="81.3" lengthAdjust="spacingAndGlyphs">10.36601m</text>
</g>
</svg>
</body></html>
